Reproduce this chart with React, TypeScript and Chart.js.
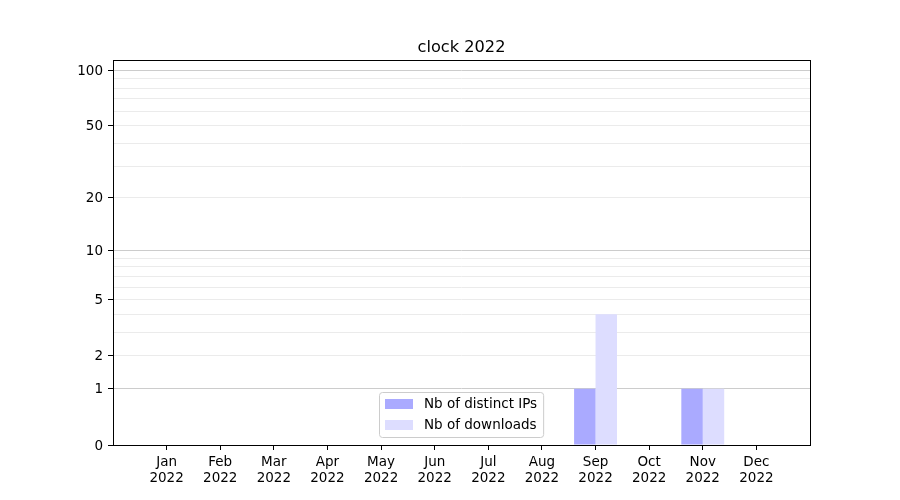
import React, { useEffect, useRef } from "react";
import { Chart, registerables } from "chart.js";

Chart.register(...registerables);

const TITLE = "clock 2022";
const MONTHS = ["Jan", "Feb", "Mar", "Apr", "May", "Jun", "Jul", "Aug", "Sep", "Oct", "Nov", "Dec"];
const YEAR = "2022";
const DISTINCT_IPS = [0, 0, 0, 0, 0, 0, 0, 0, 1, 0, 1, 0];
const DOWNLOADS = [0, 0, 0, 0, 0, 0, 0, 0, 4, 0, 1, 0];
const SERIES_LABELS = ["Nb of distinct IPs", "Nb of downloads"];
const SERIES_COLORS = ["#aaaaff", "#ddddff"];
const Y_LABELED_TICKS = [0, 1, 2, 5, 10, 20, 50, 100];
const Y_MAJOR_GRID = [1, 10, 100];
const Y_MINOR_GRID = [2, 3, 4, 5, 6, 7, 8, 9, 20, 30, 40, 50, 60, 70, 80, 90];
const Y_TOP = 113.7;

const FONT = "'DejaVu Sans', sans-serif";
const f = (v: number) => Math.log10(v + 1);

type TickDef = { v: number; label: string; kind: "major" | "minor" | "none"; mark: boolean };

const buildTickDefs = (): TickDef[] => {
  const all = Array.from(new Set([...Y_LABELED_TICKS, ...Y_MAJOR_GRID, ...Y_MINOR_GRID])).sort((a, b) => a - b);
  return all.map((v) => ({
    v,
    label: Y_LABELED_TICKS.includes(v) ? String(v) : "",
    kind: Y_MAJOR_GRID.includes(v) ? "major" : Y_MINOR_GRID.includes(v) ? "minor" : "none",
    mark: Y_LABELED_TICKS.includes(v),
  }));
};

export default function App() {
  const ref = useRef<HTMLCanvasElement>(null);

  useEffect(() => {
    if (!ref.current) return;
    const tickDefs = buildTickDefs();

    const framePlugin = {
      id: "frameAndLegend",
      afterDraw(chart: any) {
        const ctx = chart.ctx as CanvasRenderingContext2D;
        const a = chart.chartArea;
        ctx.save();
        // frame
        ctx.strokeStyle = "#000";
        ctx.lineWidth = 1;
        ctx.strokeRect(a.left + 0.5, a.top + 0.5, a.right - a.left, a.bottom - a.top);
        // title
        ctx.fillStyle = "#000";
        ctx.font = `16.2px ${FONT}`;
        ctx.textAlign = "center";
        ctx.textBaseline = "alphabetic";
        ctx.fillText(TITLE, (a.left + a.right) / 2, a.top - 8);
        // legend
        ctx.font = `13.5px ${FONT}`;
        const tw = Math.max(...SERIES_LABELS.map((s) => ctx.measureText(s).width));
        const w = 6 + 28 + 11 + tw + 6;
        const h = 45;
        const cx = (a.left + a.right) / 2;
        const bx = Math.round(cx - w / 2) + 0.5;
        const by = a.bottom - 8 - h + 0.5;
        ctx.beginPath();
        (ctx as any).roundRect(bx, by, w, h, 3);
        ctx.fillStyle = "rgba(255,255,255,0.8)";
        ctx.fill();
        ctx.strokeStyle = "#cccccc";
        ctx.stroke();
        SERIES_LABELS.forEach((lab, i) => {
          const ry = by + 6.5 + i * 21;
          ctx.fillStyle = SERIES_COLORS[i];
          ctx.fillRect(bx + 5.5, ry, 28, 10);
          ctx.fillStyle = "#000";
          ctx.textAlign = "left";
          ctx.textBaseline = "middle";
          ctx.fillText(lab, bx + 44.5, ry + 5.5);
        });
        ctx.restore();
      },
    };

    const chart = new Chart(ref.current, {
      type: "bar",
      data: {
        datasets: [
          {
            label: SERIES_LABELS[0],
            data: DISTINCT_IPS.map((v, i) => ({ x: i, y: f(v) })),
            backgroundColor: SERIES_COLORS[0],
            borderWidth: 0,
          },
          {
            label: SERIES_LABELS[1],
            data: DOWNLOADS.map((v, i) => ({ x: i, y: f(v) })),
            backgroundColor: SERIES_COLORS[1],
            borderWidth: 0,
          },
        ],
      },
      options: {
        animation: false,
        responsive: false,
        maintainAspectRatio: false,
        layout: { padding: { top: 60, right: 90, left: 0, bottom: 0 } },
        datasets: { bar: { categoryPercentage: 0.8, barPercentage: 1.0 } },
        plugins: { legend: { display: false }, title: { display: false }, tooltip: { enabled: false } },
        font: { family: FONT },
        scales: {
          x: {
            type: "linear",
            min: -1,
            max: MONTHS.length,
            offset: false,
            afterBuildTicks: (scale: any) => {
              scale.ticks = MONTHS.map((_, i) => ({ value: i }));
            },
            afterFit: (scale: any) => {
              scale.height = 55;
            },
            ticks: {
              autoSkip: false,
              maxRotation: 0,
              padding: 5,
              color: "#000",
              font: { family: FONT, size: 13.5, lineHeight: 1.17 },
              callback: (_v: any, i: number) => [MONTHS[i], YEAR],
            },
            grid: { offset: false, drawOnChartArea: false, tickLength: 5, tickColor: "#000", color: "#000" },
            border: { display: false },
          },
          y: {
            type: "linear",
            min: 0,
            max: f(Y_TOP),
            z: 1,
            afterBuildTicks: (scale: any) => {
              scale.ticks = tickDefs.map((t) => ({ value: f(t.v) }));
            },
            afterFit: (scale: any) => {
              scale.width = 113;
            },
            ticks: {
              autoSkip: false,
              padding: 5,
              labelOffset: 1,
              color: "#000",
              font: { family: FONT, size: 13.5 },
              callback: (_v: any, i: number) => tickDefs[i]?.label ?? "",
            },
            grid: {
              tickLength: 5,
              color: (c: any) => {
                const t = tickDefs[c.index];
                if (!t) return "rgba(0,0,0,0)";
                return t.kind === "major" ? "#cccccc" : t.kind === "minor" ? "#ebebeb" : "rgba(0,0,0,0)";
              },
              tickColor: (c: any) => (tickDefs[c.index]?.mark ? "#000" : "rgba(0,0,0,0)"),
            },
            border: { display: false },
          },
        },
      },
      plugins: [framePlugin],
    } as any);

    return () => chart.destroy();
  }, []);

  return (
    <div style={{ position: "absolute", left: 0, top: 0, width: 900, height: 500, background: "#fff" }}>
      <canvas ref={ref} width={900} height={500} style={{ display: "block" }} />
    </div>
  );
}
